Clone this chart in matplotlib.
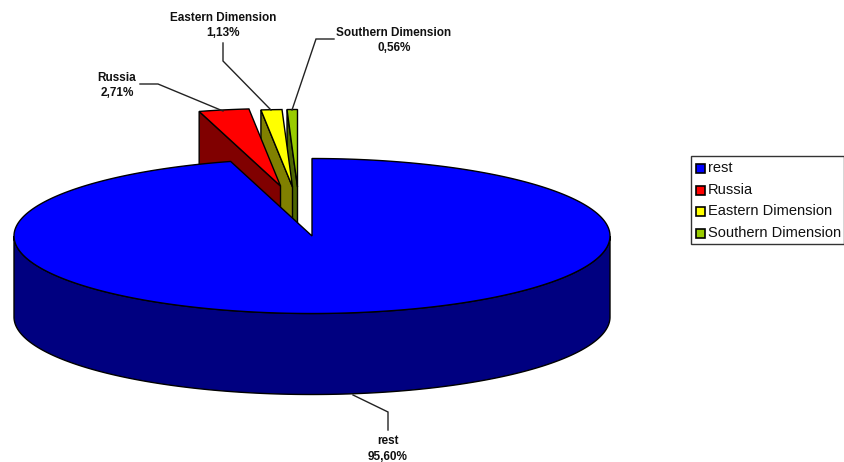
import numpy as np
import matplotlib
matplotlib.use('Agg')
import matplotlib.pyplot as plt
from matplotlib.patches import Polygon, Rectangle

# Data
labels = ['rest', 'Russia', 'Eastern Dimension', 'Southern Dimension']
values = [95.60, 2.71, 1.13, 0.56]
top_colors = ['#0000FF', '#FF0000', '#FFFF00', '#99CC00']
side_colors = ['#000080', '#800000', '#808000', '#4D6600']

# Pie geometry in pixels
cx, cy = 312, 236
rx, ry = 298, 77.5
depth = 81
# apex of each slice (the small ones are pulled out)
apexes = [(312, 236), (280.5, 186), (292.5, 187), (297.5, 187)]

plt.rcParams['font.family'] = ['Liberation Sans', 'DejaVu Sans']

fig = plt.figure(figsize=(8.44, 4.62), dpi=100)
ax = fig.add_axes([0, 0, 1, 1])
ax.set_xlim(0, 844)
ax.set_ylim(462, 0)
ax.axis('off')


def arc(ax0, ay0, t1, t2):
    # angles in degrees, clockwise from 12 o'clock
    t = np.radians(np.linspace(t1, t2, max(int(abs(t2 - t1) * 2), 2)))
    return np.column_stack([ax0 + rx * np.sin(t), ay0 - ry * np.cos(t)])


edges = np.cumsum([0] + values) / sum(values) * 360

# small slices are painted back to front: Southern, Eastern, Russia
for i in [3, 2, 1]:
    ax0, ay0 = apexes[i]
    t1, t2 = edges[i], edges[i + 1]
    outer = arc(ax0, ay0, t1, t2)
    # cut face on the left side of the slice
    face = [outer[0], (ax0, ay0), (ax0, ay0 + depth), outer[0] + [0, depth]]
    ax.add_patch(Polygon(face, closed=True, fc=side_colors[i], ec='black', lw=1, zorder=i * -1 + 5))
    top = np.vstack([[(ax0, ay0)], outer])
    ax.add_patch(Polygon(top, closed=True, fc=top_colors[i], ec='black', lw=1, zorder=i * -1 + 5))

# big slice, wall first and then the top
wall_top = arc(cx, cy, 90, 270)
wall = np.vstack([wall_top, (wall_top + [0, depth])[::-1]])
ax.add_patch(Polygon(wall, closed=True, fc=side_colors[0], ec='black', lw=1, zorder=6))
top = np.vstack([[(cx, cy)], arc(cx, cy, edges[0], edges[1])])
ax.add_patch(Polygon(top, closed=True, fc=top_colors[0], ec='black', lw=1, zorder=7))

# Leader lines
leaders = [
    ([353, 388, 388], [395, 412, 430]),
    ([223, 158, 140], [111, 84, 84]),
    ([271, 223, 223], [110, 61, 43]),
    ([292, 316, 334], [110, 39, 39]),
]
for lx, ly in leaders:
    ax.plot(lx, ly, color='#222222', lw=1, zorder=8, solid_joinstyle='miter')

# Data labels
label_pos = [(388, 449), (117, 85.5), (223, 25.5), (394, 40.5)]
for name, v, (x, y) in zip(labels, values, label_pos):
    txt = name + '\n' + f'{v:.2f}'.replace('.', ',') + '%'
    ax.text(x, y, txt, ha='center', va='center', fontsize=8.45, fontweight='bold',
            color='#111111', linespacing=1.42, zorder=9)

# Legend box
ax.add_patch(Rectangle((690.5, 155.5), 153, 88.5, fc='white', ec='#333333', lw=1, zorder=8))
legend_y = [168, 190, 211, 233]
for name, color, y in zip(labels, top_colors, legend_y):
    ax.add_patch(Rectangle((695.5, y - 4.5), 9, 9, fc=color, ec='black', lw=1.2, zorder=9))
    ax.text(708, y, name, ha='left', va='center', fontsize=10.55, color='#111111', zorder=9)

fig.savefig('out.png', dpi=100)
